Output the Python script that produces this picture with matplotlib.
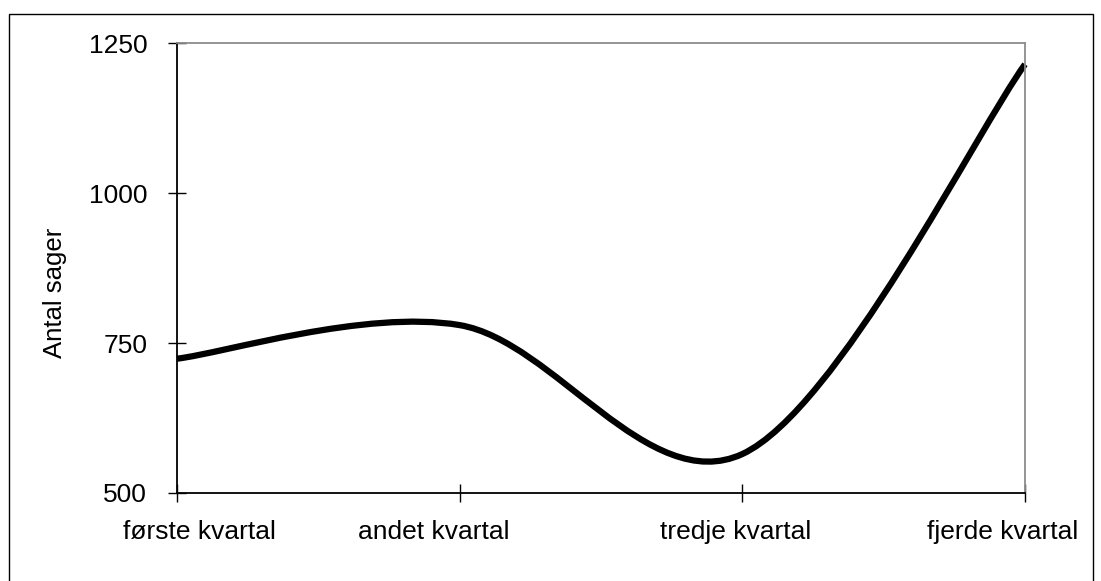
import matplotlib
matplotlib.use("Agg")
import matplotlib.pyplot as plt
from matplotlib.path import Path
from matplotlib.patches import PathPatch, Rectangle
from matplotlib.transforms import ScaledTranslation

plt.rcParams['font.family'] = ['Liberation Sans', 'DejaVu Sans']

# data
kvartaler = ["første kvartal", "andet kvartal", "tredje kvartal", "fjerde kvartal"]
antal_sager = [724, 780, 565, 1215]
y_ticks = [500, 750, 1000, 1250]

fig = plt.figure(figsize=(11.01, 5.81), dpi=100)
ax = fig.add_axes([177 / 1101, 1 - 493 / 581, (1025 - 177) / 1101, (493 - 43.3) / 581])

# smoothed line like a spreadsheet chart (cubic bezier through the points)
xs = list(range(len(antal_sager)))
pts = list(zip(xs, antal_sager))
verts = [pts[0]]
codes = [Path.MOVETO]
for i in range(len(pts) - 1):
    p0 = pts[i - 1] if i > 0 else pts[i]
    p1 = pts[i]
    p2 = pts[i + 1]
    p3 = pts[i + 2] if i + 2 < len(pts) else pts[i + 1]
    c1 = (p1[0] + (p2[0] - p0[0]) / 6, p1[1] + (p2[1] - p0[1]) / 6)
    c2 = (p2[0] - (p3[0] - p1[0]) / 6, p2[1] - (p3[1] - p1[1]) / 6)
    verts += [c1, c2, p2]
    codes += [Path.CURVE4] * 3
ax.add_patch(PathPatch(Path(verts, codes), facecolor="none", edgecolor="black",
                       lw=4.5, capstyle="butt", joinstyle="round", clip_on=False))

ax.set_xlim(0, 3)
ax.set_ylim(500, 1250)
ax.set_xticks(xs)
ax.set_xticklabels(kvartaler, fontsize=19)
ax.set_yticks(y_ticks)
ax.set_yticklabels([str(v) for v in y_ticks], fontsize=19)
ax.tick_params(axis="both", direction="inout", length=13, width=1.0, color="black")
ax.tick_params(axis="y", pad=15)
ax.tick_params(axis="x", pad=13)

# category labels are nudged sideways in the original (pixels)
nudge = [22, -26, -7, -22]
for lab, dx in zip(ax.get_xticklabels(), nudge):
    lab.set_transform(lab.get_transform() + ScaledTranslation(dx / 100, 0, fig.dpi_scale_trans))

for side in ["left", "bottom"]:
    ax.spines[side].set_color("black")
    ax.spines[side].set_linewidth(1.3)
for side in ["top", "right"]:
    ax.spines[side].set_color("#8c8c8c")
    ax.spines[side].set_linewidth(1.3)

fig.text(55 / 1101, 1 - 293 / 581, "Antal sager", rotation=90, fontsize=18.5,
         ha="center", va="center")

# outer chart border
fig.patches.append(Rectangle((8.5 / 1101, -0.05), (1093 - 8.5) / 1101, 1.05 - 14 / 581,
                             transform=fig.transFigure, fill=False, edgecolor="black",
                             lw=1.0))

fig.savefig("out.png", dpi=100)
